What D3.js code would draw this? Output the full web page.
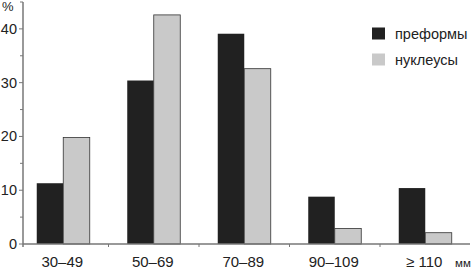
<!DOCTYPE html>
<meta charset="utf-8">
<style>
body { margin: 0; background: #fff; }
text { font-family: "Liberation Sans", Arial, sans-serif; fill: #222; }
</style>
<body>
<script src="https://d3js.org/d3.v7.min.js"></script>
<script>

const width = 473
const height = 268

// size classes and their shares (%)
const categories = ['30–49', '50–69', '70–89', '90–109', '≥ 110']
const preforms = [11.3, 30.4, 39.1, 8.8, 10.4]
const nuclei = [19.8, 42.6, 32.6, 2.9, 2.1]
const seriesNames = ['преформы', 'нуклеусы']
const seriesColors = ['#212121', '#c9c9c9']
const yTicks = [0, 10, 20, 30, 40]

const axisX = 23
const baseY = 244

const svg = d3.select('body')
  .append('svg')
  .attr('width', width)
  .attr('height', height)

const x = d3.scaleBand()
  .domain(categories)
  .range([18, 470.5])

const y = d3.scaleLinear()
  .domain([0, 45])
  .range([baseY, 2])

const barW = 26.5

// bars
const groups = svg.selectAll('g.grp')
  .data(categories)
  .enter()
  .append('g')
  .attr('class', 'grp')

groups.append('rect')
  .attr('x', d => x(d) + x.bandwidth() / 2 - barW)
  .attr('y', (d, i) => y(preforms[i]))
  .attr('width', barW)
  .attr('height', (d, i) => baseY - y(preforms[i]))
  .attr('fill', seriesColors[0])

groups.append('rect')
  .attr('x', d => x(d) + x.bandwidth() / 2)
  .attr('y', (d, i) => y(nuclei[i]))
  .attr('width', barW)
  .attr('height', (d, i) => baseY - y(nuclei[i]))
  .attr('fill', seriesColors[1])
  .attr('stroke', '#333')
  .attr('stroke-width', 0.8)

// y axis
svg.append('line')
  .attr('x1', axisX).attr('x2', axisX)
  .attr('y1', 2).attr('y2', baseY + 3)
  .attr('stroke', '#777')
  .attr('stroke-width', 1.5)

svg.selectAll('line.ytick')
  .data(d3.range(0, 46, 5))
  .enter()
  .append('line')
  .attr('class', 'ytick')
  .attr('x1', d => d % 10 === 0 ? axisX - 4 : axisX - 3)
  .attr('x2', axisX)
  .attr('y1', d => y(d))
  .attr('y2', d => y(d))
  .attr('stroke', '#777')
  .attr('stroke-width', 1)

svg.selectAll('text.ylab')
  .data(yTicks)
  .enter()
  .append('text')
  .attr('class', 'ylab')
  .attr('x', 17)
  .attr('y', d => y(d) + 5)
  .attr('text-anchor', 'end')
  .attr('font-size', 14.5)
  .text(d => d)

svg.append('text')
  .attr('x', 2)
  .attr('y', 11)
  .attr('font-size', 13)
  .text('%')

// x axis
svg.append('line')
  .attr('x1', axisX).attr('x2', 470)
  .attr('y1', baseY).attr('y2', baseY)
  .attr('stroke', '#777')
  .attr('stroke-width', 1.5)

svg.selectAll('line.xtick')
  .data(categories.slice(1))
  .enter()
  .append('line')
  .attr('class', 'xtick')
  .attr('x1', d => x(d))
  .attr('x2', d => x(d))
  .attr('y1', baseY)
  .attr('y2', baseY + 3)
  .attr('stroke', '#777')
  .attr('stroke-width', 1)

svg.selectAll('text.xlab')
  .data(categories)
  .enter()
  .append('text')
  .attr('class', 'xlab')
  .attr('x', d => x(d) + x.bandwidth() / 2 - 1)
  .attr('y', 266.5)
  .attr('text-anchor', 'middle')
  .attr('font-size', 15)
  .text(d => d)

svg.append('text')
  .attr('x', 455)
  .attr('y', 266.5)
  .attr('font-size', 11.5)
  .text('мм')

// legend
const legend = svg.selectAll('g.leg')
  .data(seriesNames)
  .enter()
  .append('g')
  .attr('class', 'leg')
  .attr('transform', (d, i) => `translate(372, ${27.5 + i * 26})`)

legend.append('rect')
  .attr('width', 13)
  .attr('height', 12)
  .attr('fill', (d, i) => seriesColors[i])

legend.append('text')
  .attr('x', 23)
  .attr('y', 11)
  .attr('font-size', 14.5)
  .text(d => d)

</script>
</body>
</html>
